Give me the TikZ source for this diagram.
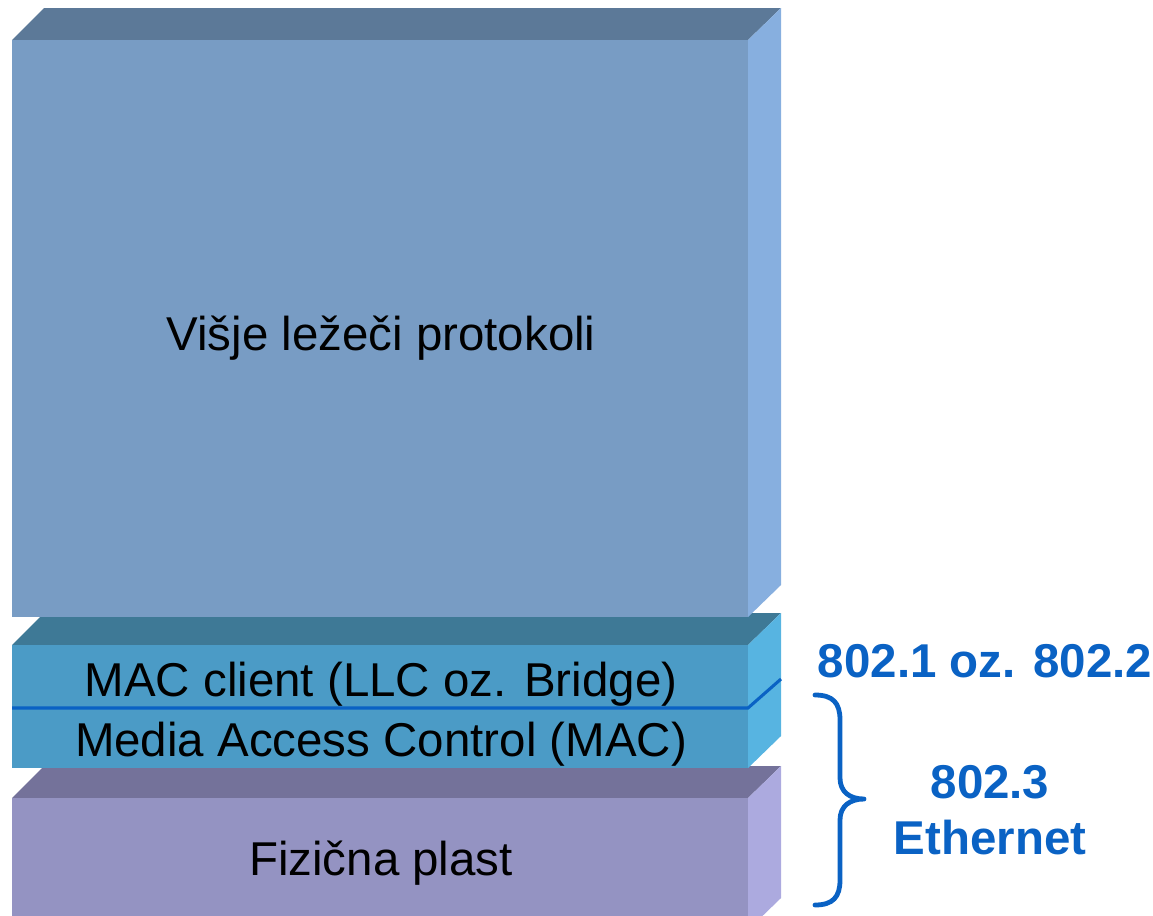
\documentclass[tikz,border=0pt]{standalone}
\usepackage{fontspec}
\setmainfont{Liberation Sans}
\definecolor{upFront}{HTML}{789CC4}
\definecolor{upTop}{HTML}{5C7998}
\definecolor{upSide}{HTML}{87AFDF}
\definecolor{macFront}{HTML}{4B9BC6}
\definecolor{macTop}{HTML}{3E7996}
\definecolor{macSide}{HTML}{57B4E1}
\definecolor{phyFront}{HTML}{9493C2}
\definecolor{phyTop}{HTML}{74729A}
\definecolor{phySide}{HTML}{ACAADF}
\definecolor{stdBlue}{HTML}{0A62C4}
% a layer block: front face, top face and right side face
% #1 left x, #2 front top y, #3 right x, #4 bottom y, #5 front, #6 top, #7 side
\newcommand{\layerblock}[7]{%
  \fill[#6] (#1,#2) -- (#1+32,#2-32) -- (#3+33,#2-32) -- (#3,#2) -- cycle;
  \fill[#7] (#3,#2) -- (#3+33,#2-32) -- (#3+33,#4-32) -- (#3,#4) -- cycle;
  \fill[#5] (#1,#2) rectangle (#3,#4);
}
\tikzset{
  layertext/.style={font=\fontsize{35.6}{40}\selectfont, text=black, inner sep=0pt},
  stdtext/.style={font=\fontsize{35.6}{40}\selectfont\bfseries, text=stdBlue, inner sep=0pt, align=center},
  stdline/.style={draw=stdBlue, line width=2.3pt},
  bracepath/.style={draw=stdBlue, line width=3.6pt, line cap=round, line join=round},
}
\begin{document}
\begin{tikzpicture}[x=0.75pt, y=-0.75pt]
\useasboundingbox (0,0) rectangle (1153,915);
% physical layer
\layerblock{12}{798}{748}{930}{phyFront}{phyTop}{phySide}
% MAC sublayers
\layerblock{12}{645}{748}{768}{macFront}{macTop}{macSide}
% upper layer protocols
\layerblock{12}{40}{748}{617}{upFront}{upTop}{upSide}
% split between MAC client and MAC
\coordinate (splitL) at (12,708);
\coordinate (splitM) at (748,708);
\coordinate (splitR) at (781,679);
\draw[stdline] (splitL) -- (splitM) -- (splitR);
% layer names
\node[layertext] (upper) at (381,338) {Višje ležeči protokoli};
\node[layertext] (macclient) at (381,684) {MAC client (LLC oz. Bridge)};
\node[layertext] (mac) at (381,744) {Media Access Control (MAC)};
\node[layertext] (phy) at (381,863) {Fizična plast};
% standards
\node[stdtext] (std8012) at (985,661) {802.1 oz. 802.2};
\node[stdtext] (std8023) at (990,810) {802.3\\[2pt]Ethernet};
% brace spanning MAC and physical layer
\draw[bracepath] (815,695) .. controls (833,695) and (840,703) .. (840,720)
  -- (840,778) .. controls (840,792) and (850,799) .. (864,799)
  .. controls (850,799) and (840,806) .. (840,820)
  -- (840,880) .. controls (840,897) and (833,905) .. (815,905);
\end{tikzpicture}
\end{document}
